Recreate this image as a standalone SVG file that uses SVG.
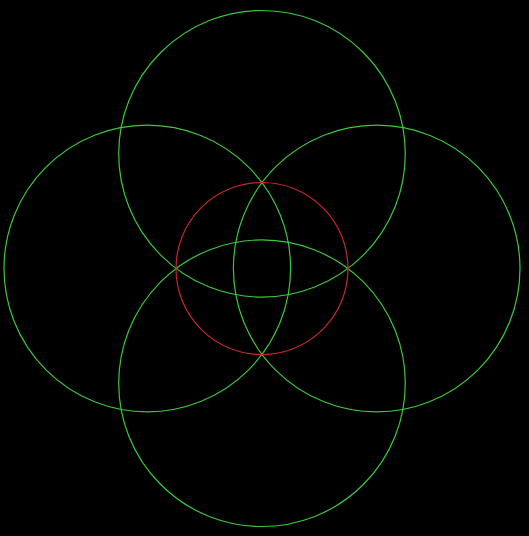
<svg xmlns="http://www.w3.org/2000/svg" width="529" height="536" viewBox="0 0 529 536">
<style>
.g{fill:none;stroke:#3cc83c;stroke-width:1.2}
.r{fill:none;stroke:#c82828;stroke-width:1.2}
</style>
<rect width="529" height="536" fill="#000"/>
<g id="green-circles">
<circle id="top" class="g" cx="262" cy="153.8" r="143.3"/>
<circle id="bottom" class="g" cx="262" cy="383.2" r="143.3"/>
<circle id="left" class="g" cx="147.3" cy="268.5" r="143.3"/>
<circle id="right" class="g" cx="376.7" cy="268.5" r="143.3"/>
</g>
<g id="center">
<circle class="r" cx="262" cy="268.5" r="86"/>
</g>
</svg>
